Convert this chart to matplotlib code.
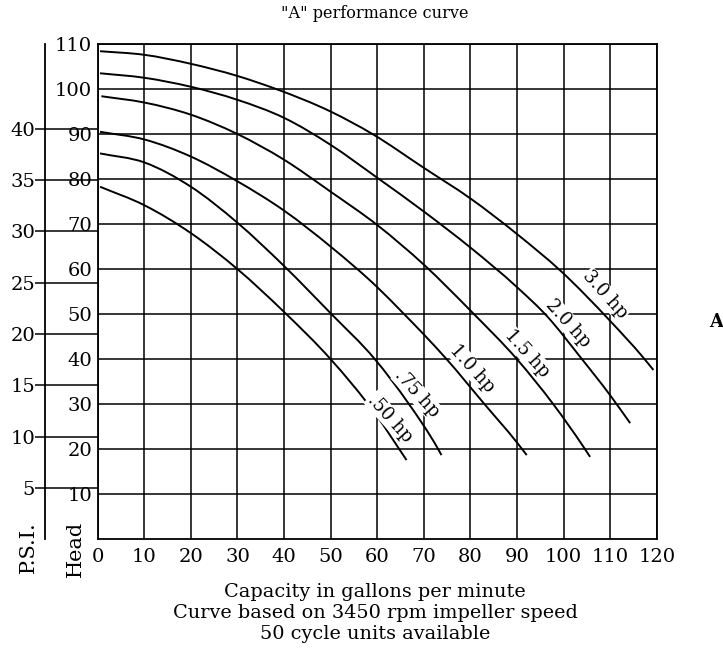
import matplotlib
matplotlib.use("Agg")
import matplotlib.pyplot as plt
from matplotlib.path import Path
from matplotlib.patches import PathPatch

plt.rcParams['font.family'] = ['DejaVu Serif', 'Liberation Serif']

# ---- data ----
gpm_ticks = [0, 10, 20, 30, 40, 50, 60, 70, 80, 90, 100, 110, 120]
head_ticks = [10, 20, 30, 40, 50, 60, 70, 80, 90, 100, 110]
psi_ticks = [5, 10, 15, 20, 25, 30, 35, 40]
FT_PER_PSI = 2.28  # head feet per psi as drawn on the chart

hp_labels = ["3.0 hp", "2.0 hp", "1.5 hp", "1.0 hp", ".75 hp", ".50 hp"]

gpm_300 = [0.5, 10, 20, 30, 38.3, 50, 59, 70, 80, 90, 99.5, 110, 117, 119.3]
head_300 = [108.4, 107.6, 105.6, 102.9, 100, 95.0, 90, 82.5, 75.7, 67.8, 59.5, 48.5, 40.5, 37.6]

gpm_200 = [0.5, 10, 20, 30, 40, 50, 60, 70, 80, 90, 96.5, 103.5, 110, 114.3]
head_200 = [103.5, 102.5, 100.5, 97.6, 93.6, 87.6, 80.3, 72.8, 64.8, 56, 49.5, 40.6, 32, 25.8]

gpm_150 = [0.8, 10, 20, 30, 40, 50, 60, 70, 80.3, 90, 97.8, 104.3, 105.7]
head_150 = [98.4, 97, 94.3, 90, 84.3, 77.2, 69.8, 61, 50.5, 40, 30, 20.5, 18.3]

gpm_100 = [0.5, 10, 20, 30, 40, 50, 60, 65.5, 70, 74.9, 82.8, 90, 92.1]
head_100 = [90.5, 88.8, 85, 79.5, 73, 65, 56, 50.3, 45.5, 40, 30.3, 21.5, 18.7]

gpm_075 = [0.5, 10, 20, 30, 40, 50, 59.5, 66.5, 73.1, 73.8]
head_075 = [85.7, 83.7, 78.3, 70.3, 60.7, 50.2, 40, 30.5, 20, 18.7]

gpm_050 = [0.5, 10, 20, 30, 40, 50, 59.5, 66.3]
head_050 = [78.3, 74.2, 68, 60, 50.5, 40, 28, 17.6]

curves_gpm = [gpm_300, gpm_200, gpm_150, gpm_100, gpm_075, gpm_050]
curves_head = [head_300, head_200, head_150, head_100, head_075, head_050]

# label placement (layout, data coordinates)
label_pos = [(109, 54.3), (101, 48), (92.2, 41.3), (80.3, 38), (68.6, 32.3), (62.8, 26.9)]


def smooth_path(xs, ys):
    """Cubic Hermite (Bezier) path passing through every read point."""
    n = len(xs)
    m = []
    for i in range(n):
        if i == 0:
            m.append((ys[1] - ys[0]) / (xs[1] - xs[0]))
        elif i == n - 1:
            m.append((ys[-1] - ys[-2]) / (xs[-1] - xs[-2]))
        else:
            h0 = xs[i] - xs[i - 1]
            h1 = xs[i + 1] - xs[i]
            d0 = (ys[i] - ys[i - 1]) / h0
            d1 = (ys[i + 1] - ys[i]) / h1
            m.append((d0 * h1 + d1 * h0) / (h0 + h1))
    verts = [(xs[0], ys[0])]
    codes = [Path.MOVETO]
    for i in range(n - 1):
        h = xs[i + 1] - xs[i]
        verts += [(xs[i] + h / 3, ys[i] + m[i] * h / 3),
                  (xs[i + 1] - h / 3, ys[i + 1] - m[i + 1] * h / 3),
                  (xs[i + 1], ys[i + 1])]
        codes += [Path.CURVE4] * 3
    return Path(verts, codes)


# ---- figure ----
W, H = 723, 657
fig = plt.figure(figsize=(W / 100, H / 100), dpi=100)
left, right, top, bottom = 97.7, 656.7, 44, 539.3
ax = fig.add_axes([left / W, 1 - bottom / H, (right - left) / W, (bottom - top) / H])
ax.set_xlim(0, 120)
ax.set_ylim(0, 110)
ax.set_xticks(gpm_ticks)
ax.set_yticks(head_ticks)
ax.grid(True, color='black', lw=1.1)
ax.set_axisbelow(True)
ax.tick_params(axis='x', length=0, labelsize=14, pad=6, colors='black')
ax.tick_params(axis='y', length=0, labelsize=14, pad=4, colors='black')
for s in ax.spines.values():
    s.set_linewidth(1.3)
    s.set_zorder(3)
for t in ax.get_yticklabels():
    t.set_bbox(dict(facecolor='white', edgecolor='none', pad=0.5))

for gx, hy in zip(curves_gpm, curves_head):
    ax.add_patch(PathPatch(smooth_path(gx, hy), facecolor='none', edgecolor='black',
                           lw=1.4, capstyle='butt', zorder=3))

for lbl, (lx, ly) in zip(hp_labels, label_pos):
    ax.text(lx, ly, lbl, rotation=-48, rotation_mode='anchor', ha='center', va='center',
            fontsize=13, zorder=5,
            bbox=dict(facecolor='white', edgecolor='none', pad=0.5))

# P.S.I. axis
psi_x = (45 - left) / (right - left)
sec = ax.secondary_yaxis(psi_x, functions=(lambda h: h / FT_PER_PSI, lambda p: p * FT_PER_PSI))
sec.set_yticks(psi_ticks)
sec.tick_params(direction='out', length=7.2, width=1.1, labelsize=14, pad=0, colors='black')
sec.spines['left'].set_linewidth(1.3)
ax.hlines([p * FT_PER_PSI for p in psi_ticks], psi_x, 0, transform=ax.get_yaxis_transform(),
          clip_on=False, color='black', lw=1.1, zorder=1)

fig.text(28 / W, 1 - 547 / H, "P.S.I.", rotation=90, ha='center', va='center', fontsize=15)
fig.text(75.5 / W, 1 - 549 / H, "Head", rotation=90, ha='center', va='center', fontsize=15)

fig.text(375 / W, 1 - 14 / H, '"A" performance curve', ha='center', va='center', fontsize=11.6)
fig.text(716 / W, 1 - 322 / H, "A", ha='center', va='center', fontsize=13, fontweight='bold')

fig.text(375 / W, 1 - 592 / H, "Capacity in gallons per minute", ha='center', va='center', fontsize=13.9)
fig.text(375 / W, 1 - 613 / H, "Curve based on 3450 rpm impeller speed", ha='center', va='center', fontsize=13.9)
fig.text(375 / W, 1 - 634 / H, "50 cycle units available", ha='center', va='center', fontsize=13.9)

fig.savefig("out.png", dpi=100, facecolor='white')
